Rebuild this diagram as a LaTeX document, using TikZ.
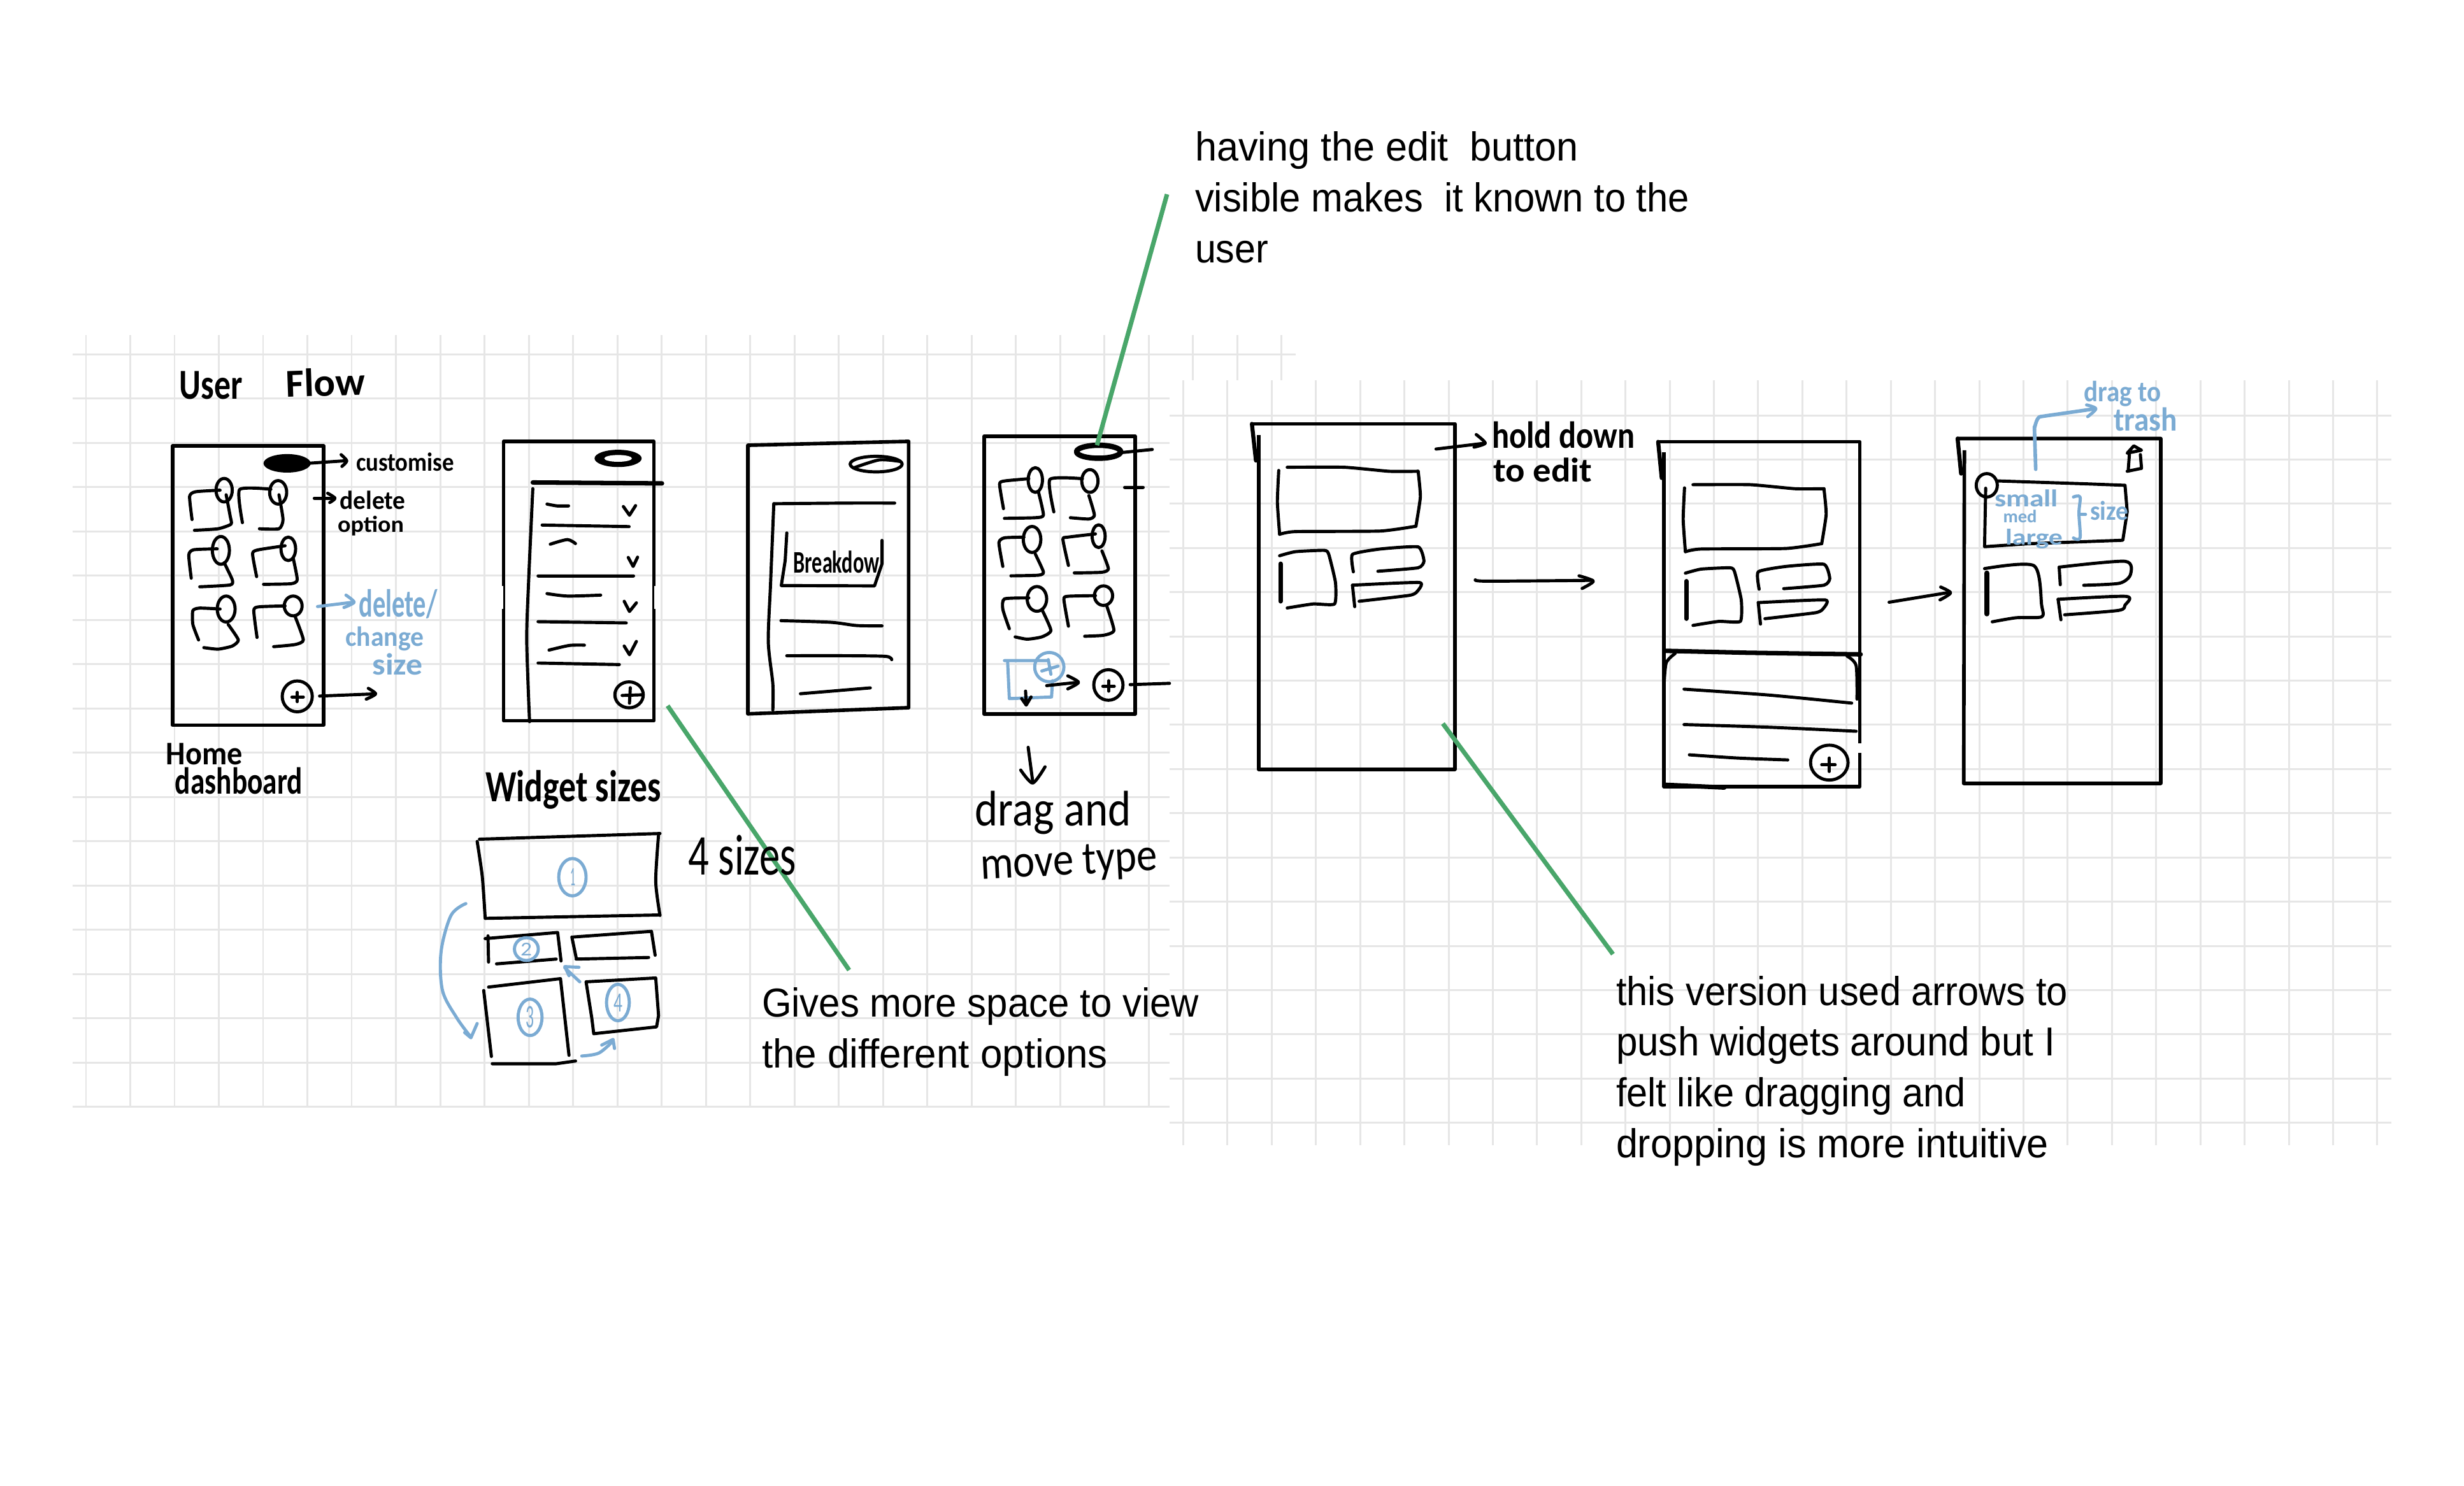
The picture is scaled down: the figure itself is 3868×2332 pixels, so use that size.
\documentclass[tikz,border=0pt]{standalone}
\usepackage{fontspec}
\usepackage{graphicx}
\setmainfont{Liberation Sans}
\newfontfamily\hwfont{Carlito}
\newdimen\pxu \pxu=0.01cm
\newcounter{tnum}
\definecolor{gridc}{HTML}{E6E6E6}
\definecolor{skblue}{HTML}{7BABD3}
\definecolor{leaf}{HTML}{49A66A}
\tikzset{
  ink/.style={black,line width=1.4pt,line cap=round,line join=round},
  inkb/.style={skblue,line width=1.4pt,line cap=round,line join=round},
  box/.style={black,line width=1.6pt,line join=round},
  gline/.style={gridc,line width=0.85pt},
  leafline/.style={leaf,line width=2pt},
  tx/.style={inner sep=0pt,outer sep=0pt},
  zA/.style={shift={(100,520)},x=0.01cm/1.568,y=-0.01cm/2.063},
  zB/.style={shift={(1100,620)},x=0.01cm/1.96,y=-0.01cm/1.96},
  zC/.style={shift={(650,1180)},x=0.01cm/2.24,y=-0.01cm/2.8},
  zD/.style={shift={(1900,620)},x=0.01cm/1.4255,y=-0.01cm/2.376},
  zE/.style={shift={(3000,560)},x=0.01cm/2.904,y=-0.01cm/2.178},
}
% handwritten label: centre x, centre y, width, total height, text
\newcommand\hw[6][]{\stepcounter{tnum}\node[tx,#1] (t\arabic{tnum}) at (#2,#3) {\resizebox*{#4\pxu}{#5\pxu}{#6}};}
% printed label line: left x, baseline y, width, text
\newcommand\prl[4]{\stepcounter{tnum}\node[tx,anchor=base west] (t\arabic{tnum}) at (#1,#2) {\resizebox{#3\pxu}{46\pxu}{\vphantom{h}#4}};}
\newcommand\skl[2][]{\draw[ink,#1] plot[smooth,tension=0.45] coordinates {#2};}
\newcommand\skb[1]{\draw[inkb] plot[smooth,tension=0.55] coordinates {#1};}
\newcommand\ring[5][ink]{\draw[#1] (#2,#3) ellipse [x radius=#4,y radius=#5];}
\newcommand\wida{% three widgets of the two wide phones, in zD units
  \draw[ink] plot[smooth,tension=0.3] coordinates {(172,270)(300,270)(400,285)(465,285)};
  \draw[ink] plot[smooth,tension=0.3] coordinates {(465,285)(470,380)(460,490)};
  \draw[ink] plot[smooth,tension=0.3] coordinates {(460,490)(380,508)(190,510)(155,520)};
  \draw[ink] plot[smooth,tension=0.3] coordinates {(155,520)(150,400)(153,282)};
  \draw[ink,line width=2pt] (157,630)--(157,770);
  \draw[ink] plot[smooth,tension=0.3] coordinates {(155,600)(190,585)(255,580)(265,595)(280,700)(278,780)(230,780)(172,795)};
  \draw[ink] plot[smooth,tension=0.3] coordinates {(320,660)(318,595)(380,575)(465,567)(478,620)(465,645)(375,658)};
  \draw[ink] plot[smooth,tension=0.3] coordinates {(323,790)(318,710)};
  \draw[ink] plot[smooth,tension=0.3] coordinates {(318,710)(468,700)(462,735)(445,748)(333,770)};
}
\begin{document}
\begin{tikzpicture}[x=0.01cm,y=-0.01cm]
\useasboundingbox (0,0) rectangle (3868,2332);
\fill[white] (0,0) rectangle (3868,2332);
% first grid
\foreach \k in {0,...,27} \draw[gline] ({135+69.5*\k},526)--({135+69.5*\k},1737);
\draw[gline] (114,556)--(2034,556);
\foreach \k in {1,...,17} \draw[gline] (114,{556+69.5*\k})--(1836,{556+69.5*\k});
% second grid
\fill[white] (1836,597) rectangle (3800,1815);
\foreach \k in {0,...,27} \draw[gline] ({1857.5+69.42*\k},597)--({1857.5+69.42*\k},1798);
\foreach \k in {0,...,16} \draw[gline] (1836,{652+69.42*\k})--(3754,{652+69.42*\k});

% ===== home dashboard phone and first list phone
\begin{scope}[zA]
\draw[box] (268,372) rectangle (640,1276);
\fill (550,428) ellipse [x radius=58,y radius=30];
\draw[ink] (600,428)--(690,420);
\skl{(683,400)(697,420)(685,438)}
\foreach \p in {
 {(316,610)(310,535)(325,520)(385,515)},
 {(440,620)(433,513)(510,512)},
 {(314,800)(308,725)(320,708)(378,705)},
 {(475,795)(465,720)(480,708)(545,695)},
 {(332,1000)(318,950)(318,905)(335,897)(385,900)},
 {(476,992)(468,905)(480,893)(545,890)},
 {(400,530)(410,600)(412,625)(380,640)(322,645)},
 {(530,530)(540,610)(530,640)(482,640)},
 {(395,750)(415,805)(410,822)(335,828)},
 {(565,735)(575,805)(560,818)(492,820)},
 {(405,950)(430,1000)(415,1020)(380,1030)(345,1025)},
 {(570,925)(590,1000)(570,1015)(517,1022)}} {\draw[ink] plot[smooth,tension=0.35] coordinates \p;}
\ring{395}{515}{20}{38}\ring{528}{522}{21}{38}
\ring{387}{710}{21}{45}\ring{553}{705}{18}{38}
\ring{400}{900}{22}{42}\ring{565}{890}{22}{32}
\draw[ink] (617,541)--(665,541);
\skl{(650,525)(668,541)(655,555)}
\draw[inkb] (625,892)--(712,878);
\draw[inkb] plot[smooth,tension=0.45] coordinates {(695,855)(715,878)(690,895)};
\ring{575}{1183}{37}{50}
\draw[ink] (562,1185)--(590,1185) (575,1170)--(575,1200);
\draw[ink] (630,1182)--(765,1175);
\skl{(750,1157)(768,1175)(745,1192)}
% list phone
\draw[box] (1083,357) rectangle (1453,1262);
\draw[white,line width=1pt] (1079,825)--(1079,900) (1457,825)--(1457,900);
\fill (1365,412) ellipse [x radius=58,y radius=28];
\fill[white] (1365,412) ellipse [x radius=34,y radius=11];
\draw[ink,line width=2pt] (1155,490)--(1473,493);
\skl{(1155,510)(1145,800)(1140,1000)(1147,1265)}
\skl{(1190,560)(1215,566)(1243,566)}
\skl{(1198,690)(1240,675)(1260,688)}
\skl{(1190,850)(1240,858)(1322,855)}
\skl{(1195,1033)(1245,1018)(1282,1017)}
\draw[ink] (1378,568)--(1393,596)--(1408,565) (1390,733)--(1402,762)--(1413,732)
  (1380,875)--(1393,908)--(1410,880) (1380,1020)--(1393,1048)--(1410,1005);
\draw[ink] (1178,628)--(1392,633) (1168,793)--(1403,793) (1168,941)--(1385,945) (1168,1075)--(1368,1080);
\ring{1392}{1178}{35}{42}
\draw[ink] (1375,1180)--(1422,1178) (1395,1155)--(1393,1205);
\end{scope}

% ===== breakdown phone and edit phone
\begin{scope}[zB]
\draw[box] (145,155)--(640,143)--(640,963)--(145,982)--cycle;
\ring{540}{213}{80}{24}
\skl{(470,225)(550,200)(615,205)}
\skl{(222,970)(222,890)(208,760)(215,580)(225,335)}
\skl{(225,335)(450,333)(597,333)}
\draw[ink] (265,425)--(260,510)--(248,587)--(535,588)--(558,520)--(558,448);
\skl{(247,695)(400,700)(480,710)(558,711)}
\skl{(265,803)(450,803)(570,805)(588,815)}
\draw[ink] (307,920)--(522,902);
\draw[box] (873,127) rectangle (1337,983);
\draw[ink,line width=2.4pt] (1225,175) ellipse [x radius=68,y radius=20];
\draw[ink] (1290,178)--(1390,168) (1305,285)--(1362,285);
\foreach \p in {
 {(932,350)(920,275)(935,265)(1010,258)},
 {(1087,360)(1075,260)(1175,258)},
 {(930,528)(918,455)(935,440)(995,438)},
 {(1132,525)(1115,445)(1130,438)(1215,428)},
 {(950,720)(930,660)(935,628)(1010,625)},
 {(1132,712)(1118,630)(1130,620)(1215,618)},
 {(1040,300)(1055,370)(1030,378)(935,380)},
 {(1195,310)(1212,370)(1195,382)(1138,378)},
 {(1030,490)(1055,545)(1040,555)(955,557)},
 {(1235,480)(1255,535)(1235,546)(1150,548)},
 {(1050,660)(1078,725)(1050,745)(1005,752)(968,745)},
 {(1250,650)(1272,725)(1240,740)(1182,743)}} {\draw[ink] plot[smooth,tension=0.35] coordinates \p;}
\ring{1030}{262}{22}{38}\ring{1198}{265}{25}{35}
\ring{1020}{445}{27}{40}\ring{1225}{435}{20}{35}
\ring{1035}{628}{30}{38}\ring{1240}{618}{28}{30}
\ring{1255}{893}{45}{47}
\draw[ink] (1238,897)--(1273,897) (1256,880)--(1256,912);
\draw[ink] (1322,892)--(1443,888);
\draw[inkb] (935,818)--(1070,818) (945,825)--(950,935)--(1080,930)--(1083,880);
\ring[inkb]{1073}{838}{45}{45}
\draw[inkb] (1050,850)--(1100,835) (1070,815)--(1078,860);
\draw[ink] (1065,895)--(1160,885);
\skl{(1130,865)(1163,885)(1130,905)}
\draw[ink] (1000,912)--(1002,950) (988,935)--(1002,955)--(1017,930);
\draw[ink] (1008,1085)--(1022,1190);
\skl{(985,1155)(1022,1195)(1060,1145)}
\end{scope}

% ===== widget sizes
\begin{scope}[zC]
\draw[ink] (230,385)--(865,360);
\skl{(222,395)(240,550)(250,730)}
\draw[ink] (250,733)--(865,718);
\skl{(860,365)(850,570)(865,720)}
\draw[ink] (260,810)--(262,925) (250,822)--(505,795)--(517,920) (290,933)--(500,912);
\draw[ink] (555,815)--(570,905) (560,815)--(835,790)--(848,895) (570,912)--(825,905);
\draw[ink] (262,1035)--(515,998)--(545,1335) (245,1050)--(272,1340) (275,1372)--(500,1372)--(568,1360);
\draw[ink] (605,1012)--(850,995)--(860,1160)--(853,1210)--(632,1240)--(625,1170)--cycle;
\ring[inkb]{557}{552}{48}{82}
\ring[inkb]{395}{868}{42}{50}
\ring[inkb]{408}{1168}{42}{80}
\ring[inkb]{717}{1103}{40}{80}
\skb{(182,668)(130,720)(95,880)(100,1050)(150,1170)(200,1255)}
\draw[inkb] (178,1235)--(200,1258)--(222,1195);
\draw[inkb] (583,1012)--(530,950) (580,948)--(530,945)--(545,985);
\skb{(590,1338)(650,1325)(700,1272)}
\draw[inkb] (660,1290)--(700,1265)--(705,1305);
\end{scope}

% ===== hold down phones
\begin{scope}[zD]
\draw[box] (93,108)--(547,108)--(547,1397)--(108,1397)--(108,150);
\draw[ink,line width=1.8pt] (93,108)--(102,245);
\draw[ink] (505,202)--(615,180);
\skl{(595,148)(615,180)(590,195)}
\wida
\skl{(593,690)(620,695)(855,692)}
\skl{(825,675)(857,695)(832,722)}
\draw[box] (1002,175)--(1453,175)--(1453,1300) (1453,1335)--(1453,1462)--(1015,1462)--(1015,215);
\draw[ink,line width=1.8pt] (1002,175)--(1010,310);
\begin{scope}[shift={(908,65)}]\wida\end{scope}
\draw[ink,line width=2pt] (1020,955)--(1200,962)--(1320,965)--(1455,968);
\skl{(1015,1090)(1020,1000)(1040,965)}
\skl{(1425,975)(1445,1010)(1447,1135)}
\skl{(1060,1098)(1250,1120)(1435,1150)}
\skl{(1060,1230)(1250,1240)(1445,1255)}
\skl{(1072,1343)(1180,1355)(1292,1362)}
\ring{1385}{1372}{42}{65}
\draw[ink] (1368,1380)--(1398,1380) (1385,1355)--(1385,1405);
\draw[ink,line width=2pt] (1020,1455)--(1150,1465);
\end{scope}

% ===== trash phone
\begin{scope}[zE]
\draw[box] (212,280)--(1138,280)--(1138,1460)--(240,1460)--(243,320);
\draw[ink,line width=1.8pt] (212,280)--(228,400);
\draw[ink] (-100,840)--(178,806);
\skl{(135,788)(180,808)(132,832)}
\draw[inkb,line width=1.6pt] (568,385)--(562,240) to[out=-90,in=180] (590,205)--(840,178);
\skb{(800,165)(842,178)(805,205)}
\draw[ink] (995,335)--(990,385) (1050,380)--(1045,335) (985,392)--(1050,382)
  (985,330)--(1015,305)--(1050,320)--cycle;
\ring{345}{440}{48}{40}
\draw[ink] (340,450)--(335,650)--(530,640)--(965,628)--(985,530)--(975,440)--(800,435)--(395,425);
\skb{(740,480)(770,480)(765,535)(770,620)(740,620)}
\draw[inkb] (770,540)--(795,540);
\draw[ink,line width=2.2pt] (345,740)--(345,880);
\skl{(335,725)(560,715)(595,850)(595,890)(480,893)(370,907)}
\skl{(680,780)(675,720)}
\skl{(675,720)(975,700)(1000,745)(950,775)(787,782)}
\skl{(683,900)(670,830)}
\skl{(670,830)(980,820)(975,850)(945,868)(700,883)}
\end{scope}

% ===== annotation leader lines
\draw[leafline] (1832,305)--(1722,699);
\draw[leafline] (1048,1108)--(1333,1523);
\draw[leafline] (2265,1136)--(2532,1498);

% ===== handwritten labels
\hw{331}{605}{99}{44}{\hwfont\bfseries User}
\hw[rotate=2]{511}{600}{124}{44}{\hwfont\bfseries Flow}
\hw{636}{725}{154}{29}{\hwfont\bfseries customise}
\hw{585}{785}{103}{29}{\hwfont\bfseries delete}
\hw{582}{826}{104}{31}{\hwfont\bfseries option}
\hw[text=skblue]{625}{948}{123}{46}{\hwfont\bfseries delete/}
\hw[text=skblue]{604}{1003}{123}{38}{\hwfont\bfseries change}
\hw[text=skblue]{624}{1043}{79}{34}{\hwfont\bfseries size}
\hw{321}{1184}{120}{34}{\hwfont\bfseries Home}
\hw{375}{1226}{200}{42}{\hwfont\bfseries dashboard}
\hw{900}{1240}{276}{61}{\hwfont\bfseries Widget sizes}
\hw{1165}{1343}{169}{63}{\hwfont 4 sizes}
\hw{1313}{882}{135}{35}{\hwfont\bfseries Breakdow}
\hw{1653}{1276}{245}{68}{\hwfont drag and}
\hw[rotate=3]{1678}{1356}{278}{58}{\hwfont move type}
\hw{2454}{683}{224}{42}{\hwfont\bfseries hold down}
\hw{2422}{738}{155}{38}{\hwfont\bfseries to edit}
\hw[text=skblue]{3332}{618}{121}{40}{\hwfont\bfseries drag to}
\hw[text=skblue]{3368}{658}{100}{37}{\hwfont\bfseries trash}
\hw[text=skblue]{3181}{782}{100}{27}{\hwfont\bfseries small}
\hw[text=skblue]{3171}{811}{53}{20}{\hwfont\bfseries med}
\hw[text=skblue]{3193}{846}{90}{31}{\hwfont\bfseries large}
\hw[text=skblue]{3311}{802}{60}{30}{\hwfont\bfseries size}
\hw[text=skblue]{899}{1377}{8}{27}{\hwfont 1}
\hw[text=skblue]{826}{1490}{18}{20}{\hwfont 2}
\hw[text=skblue]{832}{1597}{13}{34}{\hwfont 3}
\hw[text=skblue]{970}{1574}{14}{28}{\hwfont 4}

% ===== printed notes
\prl{1876}{252}{602}{having the edit\ \ button}
\prl{1876}{332}{776}{visible makes\ \ it known to the}
\prl{1876}{412}{115}{user}
\prl{1196}{1596}{686}{Gives more space to view}
\prl{1196}{1676}{543}{the different options}
\prl{2537}{1578}{709}{this version used arrows to}
\prl{2537}{1657}{689}{push widgets around but I}
\prl{2537}{1737}{549}{felt like dragging and}
\prl{2537}{1817}{679}{dropping is more intuitive}
\end{tikzpicture}
\end{document}
